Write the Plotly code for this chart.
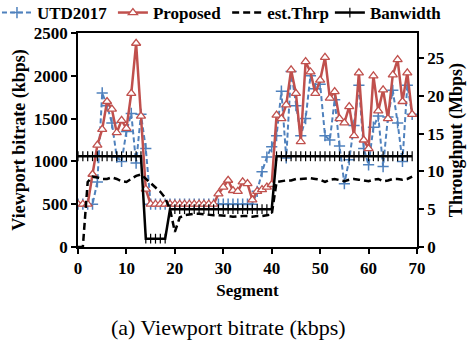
import plotly.graph_objects as go

segments = list(range(70))

utd2017 = [500, 500, 500, 500, 760, 1800, 1650, 1450, 1050, 1000, 1350, 1560, 980, 1550, 1150,
           500, 500, 500, 500, 500, 500, 500, 500, 500, 500, 500, 500, 500, 500, 500, 500, 500,
           500, 500, 500, 500, 500,
           650, 880, 1050, 1170,
           1300, 1820, 1040, 2050, 1650, 1300, 1500, 2000, 1850, 1900,
           1300, 1250, 1720, 1180, 740, 1020, 1420, 1890, 1150, 960,
           1400, 1530, 940, 1520, 1830, 1450, 1000, 1890, 1550]

proposed = [500, 500, 500, 850, 1190, 1375, 1700, 1610, 1335, 1480, 1385, 1795, 2380, 1530, 675,
            500, 500, 500, 500, 500, 500, 500, 500, 500, 500, 500, 500, 500, 500,
            620, 700, 780, 660, 650, 760, 740, 550, 650, 670, 700, 730,
            1540, 1500, 1660, 2070, 1795, 1230, 2165, 2045, 1795, 1950,
            2215, 1740, 1815, 1500, 1450, 1640, 1300, 2035, 1250, 1150,
            2000, 1590, 1835, 1500, 2010, 2190, 1700, 2035, 1550]

est_thrp = [0, 0, 8.6, 9.3, 9.2, 9.0, 9.0, 9.2, 9.0, 8.7,
            8.6, 9.0, 9.4, 9.6, 9.0, 8.4, 7.9, 7.3, 6.5, 5.0,
            2.0, 3.9, 4.2, 4.3, 4.4, 4.4, 4.3, 4.2, 4.2, 4.2,
            4.1, 4.1, 4.0, 4.1, 4.1, 4.1, 4.0, 4.1, 4.1, 4.2, 4.3,
            8.6, 8.7, 8.8, 8.8, 9.0, 9.0, 9.1, 9.1, 9.0, 8.9,
            8.6, 8.9, 9.0, 8.8, 8.7, 8.9, 9.0, 8.9, 8.8, 8.7,
            8.9, 9.0, 8.7, 8.8, 9.0, 9.0, 8.9, 9.0, 9.3]

bandwidth = [12] * 14 + [1.1] * 5 + [5] * 22 + [12] * 29

x_ticks = [0, 10, 20, 30, 40, 50, 60, 70]
left_ticks = [0, 500, 1000, 1500, 2000, 2500]
right_ticks = [0, 5, 10, 15, 20, 25]

BLUE = "#4F81BD"
RED = "#C0504D"
FONT = "Liberation Serif, Times New Roman, serif"

fig = go.Figure()
fig.add_trace(go.Scatter(
    x=segments, y=utd2017, name="UTD2017", mode="lines+markers", legend="legend",
    line=dict(color=BLUE, width=2, dash="5px,3px"),
    marker=dict(symbol="cross-thin", size=8, line=dict(color=BLUE, width=1.5)),
))
fig.add_trace(go.Scatter(
    x=segments, y=proposed, name="Proposed", mode="lines+markers", legend="legend2",
    line=dict(color=RED, width=2.5),
    marker=dict(symbol="triangle-up", size=8, color="white", line=dict(color=RED, width=1.3)),
))
fig.add_trace(go.Scatter(
    x=segments, y=est_thrp, name="est.Thrp", mode="lines", yaxis="y2", legend="legend3",
    line=dict(color="black", width=2.5, dash="7px,4px"),
))
fig.add_trace(go.Scatter(
    x=segments, y=bandwidth, name="Banwidth", mode="lines+markers", yaxis="y2", legend="legend4",
    line=dict(color="black", width=2.5),
    marker=dict(symbol="line-ns", size=7, line=dict(color="black", width=1.2)),
))

axis_common = dict(showline=True, linecolor="black", linewidth=1.5, ticks="outside",
                   ticklen=5, tickwidth=1.5, tickcolor="black", showgrid=False, zeroline=False,
                   automargin=False,
                   tickfont=dict(family=FONT, size=17, color="black", weight="bold"))


def legend_at(xpos):
    return dict(orientation="h", x=xpos, y=1.0935, xanchor="left", yanchor="middle",
                font=dict(family=FONT, size=17, weight="bold", color="black"),
                bgcolor="rgba(0,0,0,0)", itemwidth=30, borderwidth=0)


fig.update_layout(
    width=468, height=348, autosize=False,
    margin=dict(l=78, r=51, t=33, b=101, autoexpand=False),
    plot_bgcolor="white", paper_bgcolor="white",
    font=dict(family=FONT, size=17, color="black", weight="bold"),
    xaxis=dict(range=[0, 70], tickvals=x_ticks, mirror=True,
               title=dict(text="Segment", font=dict(family=FONT, size=17, weight="bold"), standoff=7),
               **axis_common),
    yaxis=dict(range=[0, 2500], tickvals=left_ticks,
               title=dict(text="Viewport bitrate (kbps)", font=dict(family=FONT, size=18, weight="bold"), standoff=4),
               **axis_common),
    yaxis2=dict(range=[0, 28.3], tickvals=right_ticks, overlaying="y", side="right",
                title=dict(text="Throughput (Mbps)", font=dict(family=FONT, size=18, weight="bold"), standoff=6),
                **axis_common),
    legend=legend_at(-0.239),
    legend2=legend_at(0.103),
    legend3=legend_at(0.440),
    legend4=legend_at(0.743),
    showlegend=True,
)

fig.add_annotation(text="(a) Viewport bitrate (kbps)", xref="paper", yref="paper",
                   x=0.444, y=-0.374, showarrow=False, xanchor="center", yanchor="middle",
                   font=dict(family=FONT, size=22, color="black", weight="normal"))

fig.write_html("out.html")
